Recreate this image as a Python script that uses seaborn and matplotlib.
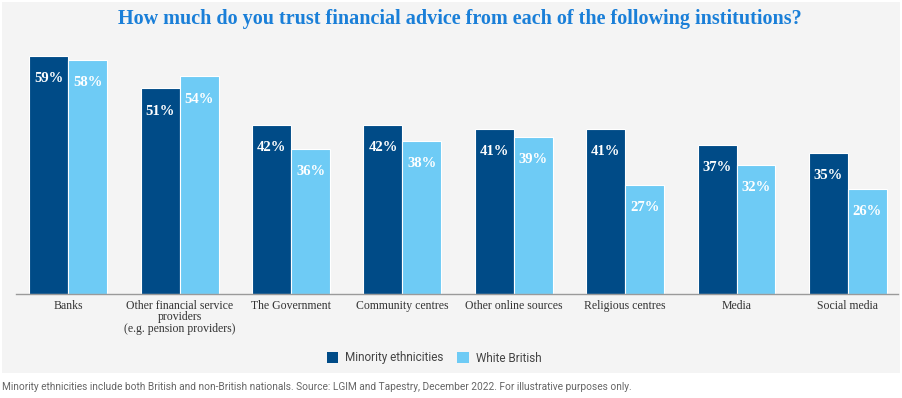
import pandas as pd
import matplotlib.pyplot as plt
import seaborn as sns
from matplotlib.patches import Rectangle

# Data
categories = ["Banks", "Other financial service\nproviders\n(e.g. pension providers)",
              "The Government", "Community centres", "Other online sources",
              "Religious centres", "Media", "Social media"]
minority = [59, 51, 42, 42, 41, 41, 37, 35]
white_british = [58, 54, 36, 38, 39, 27, 32, 26]
groups = ["Minority ethnicities", "White British"]

df = pd.DataFrame({
    "category": categories * 2,
    "value": minority + white_british,
    "group": [groups[0]] * len(categories) + [groups[1]] * len(categories),
})

dark = "#004b87"
light = "#6ecbf5"
panel = "#f4f4f4"

sns.set_style("white")
fig = plt.figure(figsize=(9.03, 3.98), dpi=100)

# grey background panel, behind everything
fig.patches.append(Rectangle((2 / 903, 1 - 373 / 398), 898 / 903, 371 / 398,
                             transform=fig.transFigure, facecolor=panel,
                             edgecolor="none", zorder=-5))

ax = fig.add_axes([16 / 903, 1 - 294 / 398, 882 / 903, 262 / 398])
ax.set_facecolor("none")

sns.barplot(data=df, x="category", y="value", hue="group", order=categories,
            hue_order=groups, palette=[dark, light], saturation=1, width=0.70,
            edgecolor="white", linewidth=0.8, ax=ax)

for cont in ax.containers:
    ax.bar_label(cont, labels=[f"{v:.0f}%" for v in cont.datavalues],
                 padding=-21, color="white", fontweight="bold",
                 family="Liberation Serif", fontsize=10.5)

ax.set_xlim(-0.47, 7.45)
ax.set_ylim(0, 65)
ax.set_xlabel("")
ax.set_ylabel("")
ax.set_yticks([])
sns.despine(ax=ax, left=True)
ax.spines["bottom"].set_color("#9a9a9a")
ax.spines["bottom"].set_linewidth(1.0)
ax.tick_params(axis="x", length=0, pad=4)
for lbl in ax.get_xticklabels():
    lbl.set_family("Liberation Serif")
    lbl.set_fontsize(8.5)
    lbl.set_color("#333333")
    lbl.set_linespacing(0.98)
    lbl.set_va("top")

leg = ax.legend(loc="center", bbox_to_anchor=(434 / 903, 1 - 358 / 398),
                bbox_transform=fig.transFigure, ncol=2, frameon=False,
                handlelength=0.95, handleheight=0.95, handletextpad=0.6,
                columnspacing=1.2, prop={"family": "Roboto", "size": 8.5})
for t in leg.get_texts():
    t.set_color("#444444")
for h in leg.legend_handles:
    h.set_edgecolor("none")

fig.text(0.5 + 8 / 903, 1 - 19 / 398,
         "How much do you trust financial advice from each of the following institutions?",
         ha="center", va="center", color="#1a7fd8", fontsize=14.5,
         fontweight="bold", family="Liberation Serif")

fig.text(2 / 903, 1 - 387 / 398,
         "Minority ethnicities include both British and non-British nationals. "
         "Source: LGIM and Tapestry, December 2022. For illustrative purposes only.",
         ha="left", va="center", color="#666666", fontsize=7.3, family="Roboto")

fig.savefig("out.png", dpi=100, facecolor="white")
